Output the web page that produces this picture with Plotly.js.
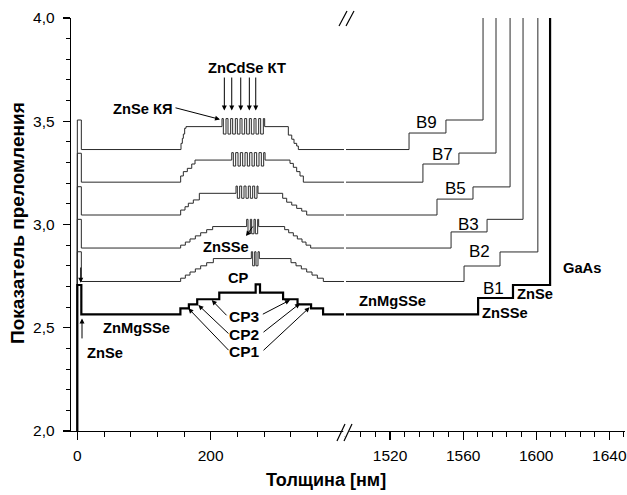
<!DOCTYPE html>
<html><head><meta charset="utf-8">
<script src="https://cdn.plot.ly/plotly-3.0.1.min.js"></script>
<style>html,body{margin:0;padding:0;background:#fff}#c{width:627px;height:495px}</style>
</head><body><div id="c"></div>
<script>
// ---- Left part (thickness 0..400 nm): layer start position (nm) and refractive index ----
const b9X = [0,0,6,155.5,157.5,159,161,163,217,219,223,226,230,233,237,240,244,247,251,254,258,261,265,268,272,275,279,281,316.5,321.6,325,329,331.5,400];
const b9N = [1.0,3.506,3.363,3.393,3.417,3.438,3.466,3.474,3.513,3.438,3.513,3.438,3.513,3.438,3.513,3.438,3.513,3.438,3.513,3.438,3.513,3.438,3.513,3.438,3.513,3.438,3.513,3.474,3.433,3.413,3.393,3.380,3.363,3.363];

const b7X = [0,0,6,155,159,165,171.6,176.5,231.6,234,237.5,241,244.5,248,251.5,255,258.5,262,265.5,269,272.5,276,279.5,281.6,319,324,329,334,339,400];
const b7N = [1.0,3.345,3.205,3.235,3.256,3.272,3.293,3.312,3.348,3.283,3.348,3.283,3.348,3.283,3.348,3.283,3.348,3.283,3.348,3.283,3.348,3.283,3.348,3.312,3.296,3.277,3.256,3.235,3.205,3.205];

const b5X = [0,0,6,155,161.5,166.5,174,183,238,240,243.5,246.5,250,253,256.5,259.5,263,266,269.5,271,308,314,321.6,329,336.6,344,400];
const b5N = [1.0,3.183,3.046,3.070,3.086,3.103,3.119,3.151,3.186,3.127,3.186,3.127,3.186,3.127,3.186,3.127,3.186,3.127,3.186,3.151,3.127,3.108,3.094,3.078,3.065,3.046,3.046];

const b3X = [0,0,6,155,162,169,177,185,194,203,254,256,259.5,261.5,265,267,270.5,272,311,317,324,330,337,343,350,400];
const b3N = [1.0,3.025,2.886,2.900,2.915,2.930,2.945,2.960,2.975,2.990,3.025,2.955,3.025,2.955,3.025,2.955,3.025,2.990,2.975,2.960,2.945,2.930,2.915,2.900,2.886,2.886];

const b2X = [0,0,6,155,162,169,177,185,194,204,261,263,266,268,271,273,320.5,328,336,344,352,360,369,400];
const b2N = [1.0,2.868,2.724,2.740,2.755,2.770,2.785,2.800,2.815,2.835,2.868,2.800,2.868,2.800,2.868,2.835,2.815,2.800,2.785,2.770,2.755,2.740,2.724,2.724];

const b1X = [0,0,6,154.6,167.3,179.8,212.9,267.5,274,308.6,330.3,350.6,368.6,400];
const b1N = [1.0,2.707,2.565,2.594,2.613,2.638,2.670,2.710,2.670,2.638,2.613,2.594,2.565,2.565];

// ---- Right part (1490..1650 nm): buffer steps and GaAs substrate ----
const b9RX = [1490,1530.4,1550.6,1570.9], b9RN = [3.363,3.443,3.506,4.2];
const b7RX = [1490,1538.0,1557.7,1578.0], b7RN = [3.205,3.293,3.346,4.2];
const b5RX = [1490,1545.7,1565.4,1585.7], b5RN = [3.046,3.123,3.182,4.2];
const b3RX = [1490,1553.4,1573.1,1592.8], b3RN = [2.886,2.964,3.025,4.2];
const b2RX = [1490,1560.5,1580.2,1600.9], b2RN = [2.724,2.799,2.867,4.2];
const b1RX = [1490,1568.2,1587.3,1607.6], b1RN = [2.565,2.644,2.707,4.2];

// tick labels
const yTickVals = [2.0,2.5,3.0,3.5,4.0];
const yTickText = ['2,0','2,5','3,0','3,5','4,0'];
const x1TickVals = [0,200];
const x2TickVals = [1520,1560,1600,1640];

const thin = {color:'#2a2a2a', width:1, shape:'hv'};
const thick = {color:'#000', width:2.2, shape:'hv'};
function tr(x,y,line,xa){return {x:x,y:y,mode:'lines',line:line,xaxis:xa,yaxis:'y',hoverinfo:'skip',showlegend:false};}
const data = [
  tr(b9X,b9N,thin,'x'),tr(b7X,b7N,thin,'x'),tr(b5X,b5N,thin,'x'),tr(b3X,b3N,thin,'x'),tr(b2X,b2N,thin,'x'),tr(b1X,b1N,thick,'x'),
  tr(b9RX,b9RN,thin,'x2'),tr(b7RX,b7RN,thin,'x2'),tr(b5RX,b5RN,thin,'x2'),tr(b3RX,b3RN,thin,'x2'),tr(b2RX,b2RN,thin,'x2'),tr(b1RX,b1RN,thick,'x2')
];

const FONT = 'Liberation Sans, Arial, sans-serif';
const tf = {family:FONT,size:15.5,color:'#000'};
const X1R = [-9.5,400], X2R = [1495.9,1648.6], YR = [2,4];
const D1 = [0,0.4928], D2 = [0.4964,1];

const layout = {
  width:627,height:495,
  margin:{l:71,r:2,t:18,b:64},
  paper_bgcolor:'#fff',plot_bgcolor:'#fff',
  font:{family:FONT,color:'#000'},
  showlegend:false,
  xaxis:{domain:D1,range:X1R,anchor:'y',showline:true,linecolor:'#000',linewidth:1.3,
    ticks:'outside',ticklen:8,tickwidth:1.2,tickcolor:'#000',tickmode:'array',tickvals:x1TickVals,
    minor:{dtick:40,tick0:0,ticks:'outside',ticklen:5,tickwidth:1,tickcolor:'#000',showgrid:false},
    showgrid:false,zeroline:false,tickfont:tf,ticklabelstandoff:2},
  xaxis2:{domain:D2,range:X2R,anchor:'y',showline:true,linecolor:'#000',linewidth:1.3,
    ticks:'outside',ticklen:8,tickwidth:1.2,tickcolor:'#000',tickmode:'array',tickvals:x2TickVals,
    minor:{dtick:8,tick0:0,ticks:'outside',ticklen:5,tickwidth:1,tickcolor:'#000',showgrid:false},
    showgrid:false,zeroline:false,tickfont:tf,ticklabelstandoff:2},
  xaxis3:{overlaying:'x',domain:D1,range:X1R,anchor:'y',side:'top',showline:true,linecolor:'#000',linewidth:1.3,
    ticks:'inside',ticklen:7,tickwidth:1.2,tickcolor:'#000',tickmode:'array',tickvals:x1TickVals,
    minor:{dtick:40,tick0:0,ticks:'inside',ticklen:4,tickwidth:1,tickcolor:'#000',showgrid:false},
    showticklabels:false,showgrid:false,zeroline:false},
  xaxis4:{overlaying:'x2',domain:D2,range:X2R,anchor:'y',side:'top',showline:true,linecolor:'#000',linewidth:1.3,
    ticks:'inside',ticklen:7,tickwidth:1.2,tickcolor:'#000',tickmode:'array',tickvals:x2TickVals,
    minor:{dtick:8,tick0:0,ticks:'inside',ticklen:4,tickwidth:1,tickcolor:'#000',showgrid:false},
    showticklabels:false,showgrid:false,zeroline:false},
  yaxis:{range:YR,anchor:'x',showline:true,linecolor:'#000',linewidth:1.3,
    ticks:'outside',ticklen:7,tickwidth:1.2,tickcolor:'#000',tickmode:'array',tickvals:yTickVals,ticktext:yTickText,
    minor:{dtick:0.1,tick0:0,ticks:'outside',ticklen:4,tickwidth:1,tickcolor:'#000',showgrid:false},
    showgrid:false,zeroline:false,tickfont:tf,ticklabelstandoff:5},
  yaxis2:{overlaying:'y',range:YR,anchor:'x2',side:'right',showline:true,linecolor:'#000',linewidth:1.3,
    ticks:'inside',ticklen:7,tickwidth:1.2,tickcolor:'#000',tickmode:'array',tickvals:yTickVals,
    minor:{dtick:0.1,tick0:0,ticks:'inside',ticklen:4,tickwidth:1,tickcolor:'#000',showgrid:false},
    showticklabels:false,showgrid:false,zeroline:false},
  shapes:[
    {type:'rect',xref:'paper',yref:'paper',x0:0.4915,x1:0.5025,y0:-0.014,y1:0.014,fillcolor:'#fff',line:{width:0}},
    {type:'rect',xref:'paper',yref:'paper',x0:0.4915,x1:0.5025,y0:0.986,y1:1.014,fillcolor:'#fff',line:{width:0}},
    {type:'line',xref:'paper',yref:'paper',x0:0.4801,y0:-0.0242,x1:0.4946,y1:0.0169,line:{color:'#000',width:1.2}},
    {type:'line',xref:'paper',yref:'paper',x0:0.4928,y0:-0.0242,x1:0.5072,y1:0.0169,line:{color:'#000',width:1.2}},
    {type:'line',xref:'paper',yref:'paper',x0:0.4838,y0:0.9806,x1:0.4982,y1:1.0169,line:{color:'#000',width:1.2}},
    {type:'line',xref:'paper',yref:'paper',x0:0.4964,y0:0.9806,x1:0.5108,y1:1.0169,line:{color:'#000',width:1.2}}
  ],
  annotations:[]
};

const A = layout.annotations;
function txt(t,x,y,xr,size,bold){A.push({text:bold?'<b>'+t+'</b>':t,x:x,y:y,xref:xr,yref:'y',showarrow:false,
  font:{family:FONT,size:size,color:'#000'},xanchor:'center',yanchor:'middle'});}
function arr(x0,y0,x1,y1,head){A.push({text:'',x:x1,y:y1,ax:x0,ay:y0,xref:'x',yref:'y',axref:'x',ayref:'y',
  showarrow:true,arrowhead:head,arrowsize:1,arrowwidth:1,arrowcolor:'#000',standoff:0,startstandoff:0});}

const LB = 14.7;
// left labels
txt('ZnCdSe КТ',254,3.758,'x',LB,true);
txt('ZnSe КЯ',98.7,3.559,'x',LB,true);
txt('ZnSSe',223,2.891,'x',LB,true);
txt('CP',241,2.741,'x',LB,true);
txt('ZnMgSSe',89,2.499,'x',LB,true);
txt('ZnSe',41.5,2.378,'x',LB,true);
txt('CP3',250.5,2.553,'x',15.5,true);
txt('CP2',250,2.465,'x',15.5,true);
txt('CP1',250,2.385,'x',15.5,true);
// right labels
txt('B9',1539.7,3.492,'x2',17,false);
txt('B7',1548.5,3.341,'x2',17,false);
txt('B5',1556.1,3.172,'x2',17,false);
txt('B3',1563.2,3.002,'x2',17,false);
txt('B2',1569.2,2.867,'x2',17,false);
txt('B1',1576.4,2.692,'x2',17,false);
txt('ZnMgSSe',1521.1,2.630,'x2',LB,true);
txt('ZnSSe',1582.9,2.571,'x2',LB,true);
txt('ZnSe',1599.3,2.663,'x2',LB,true);
txt('GaAs',1625.1,2.789,'x2',LB,true);

// arrows
[220.5,231.6,245.1,258,267.6].forEach(x=>arr(x,3.719,x,3.552,2));
arr(145,3.567,214,3.509,2);
arr(265,2.998,253,2.944,2);
arr(7,2.441,7,2.545,2);
arr(5.1,2.799,5.1,2.718,2);
arr(226,2.553,201.6,2.634,2);
arr(276,2.562,319,2.634,2);
arr(229,2.465,181.5,2.610,2);
arr(277,2.473,334,2.618,2);
arr(229,2.384,166.5,2.594,2);
arr(277,2.384,348.5,2.599,2);

// axis titles
A.push({text:'<b>Толщина [нм]</b>',xref:'paper',yref:'paper',x:(326-71)/554,y:(431-480)/413,showarrow:false,
  font:{family:FONT,size:18,color:'#000'},xanchor:'center',yanchor:'middle'});
A.push({text:'<b>Показатель преломления</b>',xref:'paper',yref:'paper',x:(18-71)/554,y:(431-223)/413,showarrow:false,
  textangle:-90,font:{family:FONT,size:19,color:'#000'},xanchor:'center',yanchor:'middle'});

Plotly.newPlot('c',data,layout,{displayModeBar:false,staticPlot:true});
</script></body></html>
